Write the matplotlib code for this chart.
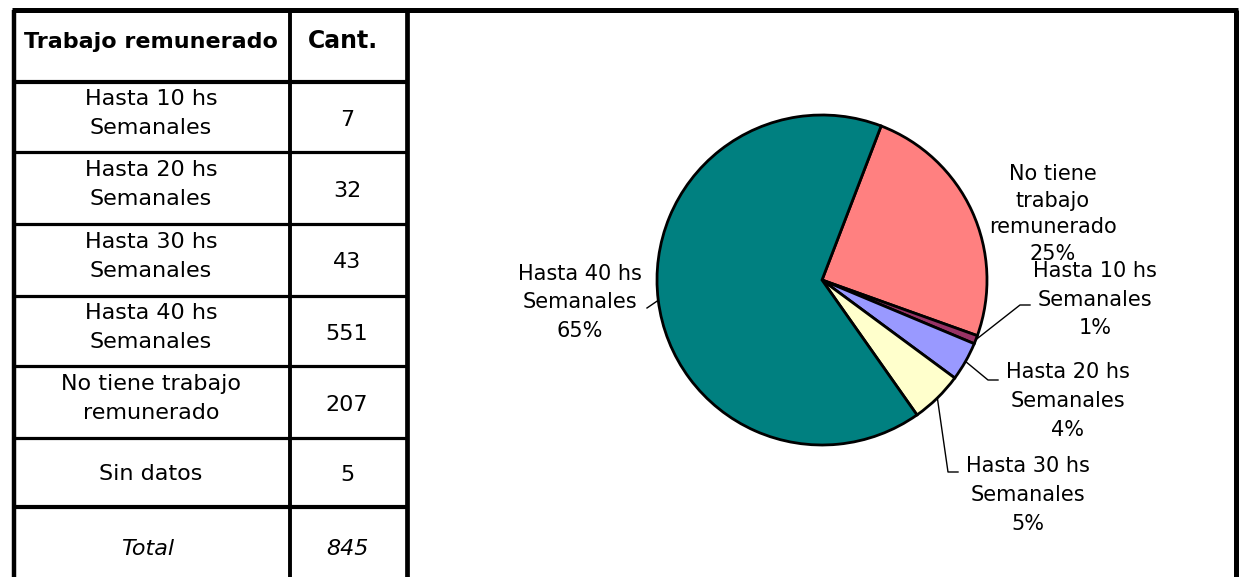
import matplotlib
matplotlib.use("Agg")
import matplotlib.pyplot as plt
import numpy as np

W, H, DPI = 1240, 577, 100

# ---------------- data ----------------
header = ["Trabajo remunerado", "Cant."]
row_labels = ["Hasta 10 hs\nSemanales", "Hasta 20 hs\nSemanales", "Hasta 30 hs\nSemanales",
              "Hasta 40 hs\nSemanales", "No tiene trabajo\nremunerado", "Sin datos"]
row_counts = [7, 32, 43, 551, 207, 5]
total_label = "Total"
total_count = 845

pie_labels = ["No tiene\ntrabajo\nremunerado", "Hasta 10 hs\nSemanales", "Hasta 20 hs\nSemanales",
              "Hasta 30 hs\nSemanales", "Hasta 40 hs\nSemanales"]
pie_values = [207, 7, 32, 43, 551]
pie_pcts = ["25%", "1%", "4%", "5%", "65%"]
pie_colors = ["#FF8080", "#993366", "#9999FF", "#FFFFCC", "#008080"]

plt.rcParams['font.family'] = ['DejaVu Sans']

fig = plt.figure(figsize=(W / DPI, H / DPI), dpi=DPI)
fig.patch.set_facecolor("white")
bg = fig.add_axes([0, 0, 1, 1])
bg.set_xlim(0, W)
bg.set_ylim(H, 0)
bg.axis("off")

# ---------------- table frame ----------------
XL, XC, XR, XE = 13.5, 290, 407, 1235.5
YT = 9.5
row_bounds = [81.5, 152, 223.5, 295.5, 366, 437.5, 506.5]

bg.plot([XL - 2, XE + 2.5], [YT, YT], color="black", lw=3.6, solid_capstyle="butt")
for x, lw in [(XL, 3.2), (XC, 2.8), (XR, 3.4), (XE, 3.6)]:
    bg.plot([x, x], [YT, H + 5], color="black", lw=lw, solid_capstyle="butt")
for i, y in enumerate(row_bounds):
    lw = 3.0 if i in (0, len(row_bounds) - 1) else 2.3
    bg.plot([XL, XR], [y, y], color="black", lw=lw, solid_capstyle="butt")

FS = 16
col1_x, col2_x = 151, 347
bg.text(col1_x, 48, header[0], ha="center", va="baseline", fontsize=FS, fontweight="bold")
bg.text(343, 48, header[1], ha="center", va="baseline", fontsize=FS + 1, fontweight="bold")

for i, (lab, cnt) in enumerate(zip(row_labels, row_counts)):
    yc = (row_bounds[i] + row_bounds[i + 1]) / 2
    if "\n" in lab:
        bg.text(col1_x, yc - 3, lab, ha="center", va="center", fontsize=FS, linespacing=1.56)
    else:
        bg.text(col1_x, yc, lab, ha="center", va="center_baseline", fontsize=FS)
    bg.text(col2_x, yc + 1, str(cnt), ha="center", va="center_baseline", fontsize=FS)

bg.text(148, 547, total_label, ha="center", va="center_baseline", fontsize=FS, style="italic")
bg.text(col2_x, 547, str(total_count), ha="center", va="center_baseline", fontsize=FS, style="italic")

# ---------------- pie ----------------
CX, CY, R = 822, 280, 165
pax = fig.add_axes([(CX - R) / W, (H - CY - R) / H, 2 * R / W, 2 * R / H])
wedges, _ = pax.pie(pie_values, colors=pie_colors, startangle=69, counterclock=False,
                    radius=1, wedgeprops=dict(edgecolor="black", linewidth=2.0))
pax.set_xlim(-1, 1)
pax.set_ylim(-1, 1)
pax.set_aspect("auto")
pax.axis("off")
for w in wedges:
    w.set_clip_on(False)

PFS = 15
label_pos = [(1053, 214), (1095, 299.5), (1068, 401), (1028, 495), (580, 302.5)]
leader_pts = [None, [(1020, 305), (1030, 305)], [(988, 380), (998, 380)],
              [(948, 472), (958, 472)], [(647, 308)]]
label_ls = [1.42, 1.55, 1.55, 1.55, 1.55]

for w, lab, pct, (lx, ly), pts, ls in zip(wedges, pie_labels, pie_pcts, label_pos, leader_pts, label_ls):
    bg.text(lx, ly, lab + "\n" + pct, ha="center", va="center", fontsize=PFS, linespacing=ls)
    if pts is not None:
        mid = np.deg2rad((w.theta1 + w.theta2) / 2)
        sx, sy = CX + R * np.cos(mid), CY - R * np.sin(mid)
        xs = [sx] + [p[0] for p in pts]
        ys = [sy] + [p[1] for p in pts]
        bg.plot(xs, ys, color="black", lw=1.0)

fig.savefig("out.png", dpi=DPI, facecolor="white")
